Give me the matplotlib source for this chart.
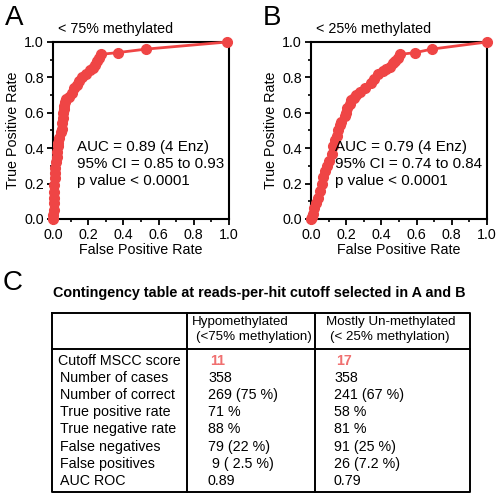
import matplotlib
matplotlib.use('Agg')
import matplotlib.pyplot as plt
from matplotlib.ticker import MultipleLocator

plt.rcParams['font.family'] = ['Liberation Sans', 'DejaVu Sans']

# ROC curve A (< 75% methylated)
fpr_a = [0.0, 0.0, 0.003, 0.003, 0.006, 0.006, 0.008, 0.011, 0.011, 0.014, 0.017, 0.02,
         0.025, 0.028, 0.03, 0.036, 0.045, 0.05, 0.053, 0.056, 0.059, 0.062, 0.065, 0.068,
         0.075, 0.09, 0.107, 0.12, 0.135, 0.15, 0.164, 0.19, 0.21, 0.225, 0.24, 0.25, 0.26,
         0.27, 0.367, 0.53, 0.99]
tpr_a = [0.0, 0.02, 0.05, 0.09, 0.12, 0.15, 0.19, 0.23, 0.26, 0.29, 0.32, 0.35,
         0.38, 0.41, 0.43, 0.46, 0.49, 0.51, 0.54, 0.57, 0.60, 0.62, 0.64, 0.66,
         0.68, 0.69, 0.71, 0.74, 0.757, 0.78, 0.80, 0.82, 0.84, 0.855, 0.87, 0.89, 0.91,
         0.93, 0.94, 0.96, 1.0]

# ROC curve B (< 25% methylated)
fpr_b = [0.0, 0.005, 0.01, 0.018, 0.03, 0.04, 0.05, 0.06, 0.07, 0.08, 0.09, 0.1, 0.117,
         0.127, 0.136, 0.145, 0.154, 0.165, 0.173, 0.192, 0.2, 0.205, 0.22, 0.23, 0.245,
         0.258, 0.28, 0.305, 0.343, 0.36, 0.38, 0.41, 0.428, 0.45, 0.465, 0.48, 0.494,
         0.505, 0.593, 0.687, 1.0]
tpr_b = [0.0, 0.01, 0.03, 0.06, 0.09, 0.12, 0.16, 0.2, 0.24, 0.27, 0.30, 0.33, 0.37,
         0.41, 0.446, 0.47, 0.50, 0.53, 0.55, 0.58, 0.6, 0.625, 0.65, 0.67, 0.685,
         0.70, 0.72, 0.74, 0.767, 0.79, 0.82, 0.835, 0.845, 0.86, 0.88, 0.895, 0.91,
         0.93, 0.94, 0.96, 1.0]

titles = ['< 75% methylated', '< 25% methylated']
stats = ['AUC = 0.89 (4 Enz)\n95% CI = 0.85 to 0.93\np value < 0.0001',
         'AUC = 0.79 (4 Enz)\n95% CI = 0.74 to 0.84\np value < 0.0001']
letters = ['A', 'B']

# table content
col_headers = [['Hypomethylated', '(<75% methylation)'],
               ['Mostly Un-methylated', '(< 25% methylation)']]
row_labels = ['Cutoff MSCC score', 'Number of cases', 'Number of correct',
              'True positive rate', 'True negative rate', 'False negatives',
              'False positives', 'AUC ROC']
vals_hypo = ['11', '358', '269 (75 %)', '71 %', '88 %', '79 (22 %)', ' 9 ( 2.5 %)', '0.89']
vals_unmeth = ['17', '358', '241 (67 %)', '58 %', '81 %', '91 (25 %)', '26 (7.2 %)', '0.79']

W, H = 502, 495
RED = '#ef4545'
fig = plt.figure(figsize=(W / 100, H / 100), dpi=100)


def px_axes(left, top, right, bottom):
    return fig.add_axes([left / W, 1 - bottom / H, (right - left) / W, (bottom - top) / H])


curves = [(fpr_a, tpr_a), (fpr_b, tpr_b)]
lefts = [53, 311]
fs = 10.3
for i, (fx, ty) in enumerate(curves):
    ax = px_axes(lefts[i], 42, lefts[i] + 176, 219)
    ax.plot(fx, ty, '-o', color=RED, lw=2.0, ms=7, mec=RED, clip_on=False, zorder=3)
    ax.set_xlim(0, 1)
    ax.set_ylim(0, 1)
    ax.xaxis.set_major_locator(MultipleLocator(0.2))
    ax.yaxis.set_major_locator(MultipleLocator(0.2))
    ax.xaxis.set_minor_locator(MultipleLocator(0.1))
    ax.yaxis.set_minor_locator(MultipleLocator(0.1))
    ax.tick_params(which='major', direction='out', length=4, width=1.3, labelsize=fs, pad=2.5)
    ax.tick_params(which='minor', direction='out', length=2.5, width=1.2)
    ax.set_xticklabels([f'{v:.1f}' for v in ax.get_xticks()])
    ax.set_yticklabels([f'{v:.1f}' for v in ax.get_yticks()])
    for s in ax.spines.values():
        s.set_linewidth(1.5)
    ax.set_xlabel('False Positive Rate', fontsize=fs, labelpad=1)
    ax.set_ylabel('True Positive Rate', fontsize=fs, labelpad=3)
    ax.text(0.03, 1.035, titles[i], transform=ax.transAxes, fontsize=fs, va='bottom')
    ax.text(0.135, 0.445, stats[i], transform=ax.transAxes, fontsize=10.9, va='top',
            linespacing=1.25)
    fig.text((lefts[i] - 48) / W, 1 - 25 / H, letters[i], fontsize=20, va='baseline')

# panel C: contingency table drawn on an overlay in pixel units
tx = fig.add_axes([0, 0, 1, 1])
tx.set_xlim(0, W)
tx.set_ylim(H, 0)
tx.axis('off')
tx.text(3, 290, 'C', fontsize=20, va='baseline')
tx.text(53, 293, 'Contingency table at reads-per-hit cutoff selected in A and B',
        fontsize=10.4, fontweight='bold', va='center')

t_left, t_right, t_top, t_mid, t_bot = 52, 470, 313, 349, 492
col_x = [187, 315]
lw = 1.4
tx.plot([t_left, t_right, t_right, t_left, t_left], [t_top, t_top, t_bot, t_bot, t_top],
        color='black', lw=lw)
tx.plot([t_left, t_right], [t_mid, t_mid], color='black', lw=lw)
for cx in col_x:
    tx.plot([cx, cx], [t_top, t_bot], color='black', lw=lw)

hdr_x = [(192, 196), (326, 330)]
for (h1, h2), (x1, x2) in zip(col_headers, hdr_x):
    tx.text(x1, 322, h1, fontsize=9.6, va='center')
    tx.text(x2, 337, h2, fontsize=9.6, va='center')

row_y0, row_dy = 361, 17.1
for r, (lab, v1, v2) in enumerate(zip(row_labels, vals_hypo, vals_unmeth)):
    y = row_y0 + r * row_dy
    c = '#f07070' if r == 0 else 'black'
    fw = 'bold' if r == 0 else 'normal'
    tx.text(58 if r == 0 else 60, y, lab, fontsize=fs, va='center')
    tx.text(210 if r == 0 else 208, y, v1, fontsize=fs, va='center', color=c, fontweight=fw)
    tx.text(336 if r == 0 else 334, y, v2, fontsize=fs, va='center', color=c, fontweight=fw)

fig.savefig('out.png', dpi=100)
